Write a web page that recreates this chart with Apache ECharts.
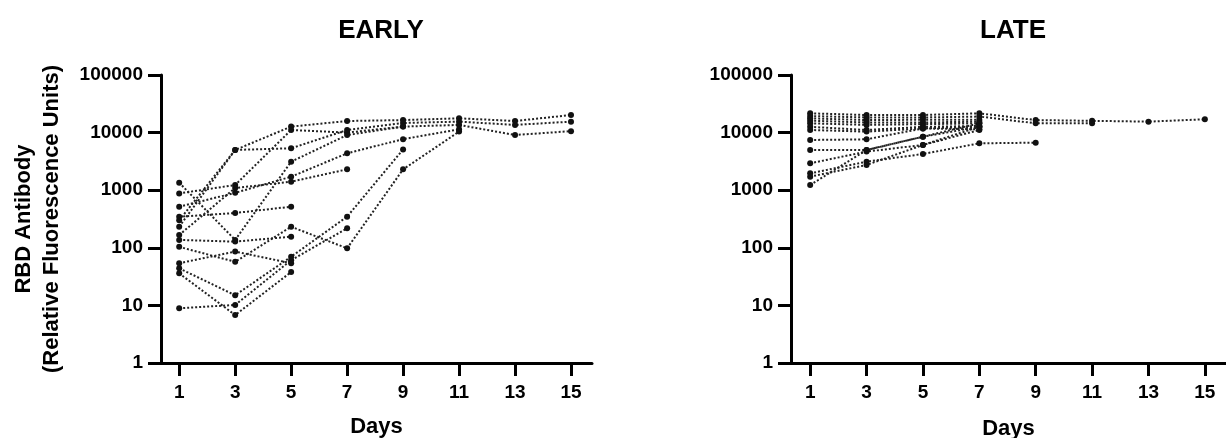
<!DOCTYPE html>
<html>
<head>
<meta charset="utf-8">
<script src="https://cdn.jsdelivr.net/npm/echarts@6/dist/echarts.min.js"></script>
<style>
  html, body { margin: 0; padding: 0; background: #fff; }
  #chart { width: 1226px; height: 438px; }
</style>
</head>
<body>
<div id="chart"></div>
<script>
// ---- data ----
const days = [1, 3, 5, 7, 9, 11, 13, 15];
const yTicks = [1, 10, 100, 1000, 10000, 100000];

// EARLY panel: one array per subject (values at days 1,3,5,...)
const early01 = [300, 5000, 12700, 15900, 16500, 17700, 15900, 20200];
const early02 = [232, 5000, 5340, 11100, 14700, 15500, 13600, 15500];
const early03 = [880, 1230, 11100, 10000, 12700, 13600, 9080, 10600];
const early04 = [1350, 137, 3125, 9080, 12700];
const early05 = [517, 900, 1715, 4370, 7700, 11400];
const early06 = [167, 1090, 1405, 2300];
const early07 = [104, 57, 232, 98, 2300, 10400];
const early08 = [347, 402, 517];
const early09 = [44, 15, 70, 347, 5100];
const early10 = [8.9, 10.2, 61, 218];
const early11 = [36, 6.8, 38];
const early12 = [137, 128, 156];
const early13 = [54, 86, 54];

// LATE panel
const late01 = [21600, 20200, 20200, 21600, 16500, 16000, 15500, 17000];
const late02 = [19400, 18300, 18300, 19000, 14500, 14500];
const late03 = [17700, 16500, 16700, 16700];
const late04 = [16100, 15000, 15000, 15500];
const late05 = [14500, 13600, 14000, 14500];
const late06 = [12600, 11100, 12600, 13000];
const late07 = [11100, 10400, 11800, 12600];
const late08 = [7440, 7650, 11800, 11400];
const late09 = [4990, 4990, 8490, 14500];
const late10 = [2930, 4680, 6100, 12600];
const late11 = [1960, 3125, 4250, 6520, 6680];
const late12 = [1720, 2740, 6100, 11100];
const late13 = [1230, 4990, 8490, 12600];

const earlySubjects = [early01, early02, early03, early04, early05, early06, early07,
  early08, early09, early10, early11, early12, early13];
const lateSubjects = [late01, late02, late03, late04, late05, late06, late07,
  late08, late09, late10, late11, late12, late13];

// ---- chart ----
const FONT = "'Liberation Sans', Arial, sans-serif";
const chart = echarts.init(document.getElementById('chart'), null, { renderer: 'canvas' });

function toPairs(vals) { return vals.map((v, i) => [days[i], v]); }

function makeSeries(subjects, axisIndex) {
  return subjects.map(vals => ({
    type: 'line',
    xAxisIndex: axisIndex,
    yAxisIndex: axisIndex,
    data: toPairs(vals),
    symbol: 'circle',
    symbolSize: 6,
    itemStyle: { color: '#111' },
    lineStyle: { color: '#222', width: 2, type: [2, 2] },
    emphasis: { disabled: true },
    silent: true,
    animation: false
  }));
}

function xAxisCfg(gridIndex, min, gap) {
  return {
    type: 'value', gridIndex, min, max: 15.75,
    name: 'Days', nameLocation: 'middle', nameGap: gap,
    nameTextStyle: { fontFamily: FONT, fontSize: 22, fontWeight: 'bold', color: '#000' },
    axisLine: { show: true, lineStyle: { color: '#000', width: 3 } },
    axisTick: { show: true, length: 13, lineStyle: { color: '#000', width: 3 }, customValues: days },
    axisLabel: { fontFamily: FONT, fontSize: 19, fontWeight: 'bold', color: '#000', margin: 20, customValues: days },
    splitLine: { show: false }
  };
}

function yAxisCfg(gridIndex, withName) {
  const cfg = {
    type: 'log', logBase: 10, gridIndex, min: 1, max: 100000,
    axisLine: { show: true, lineStyle: { color: '#000', width: 3 } },
    axisTick: { show: true, length: 13, lineStyle: { color: '#000', width: 3 } },
    axisLabel: { fontFamily: FONT, fontSize: 19, fontWeight: 'bold', color: '#000', margin: 18,
      formatter: v => String(Math.round(v)) },
    minorTick: { show: false },
    splitLine: { show: false }
  };
  if (withName) {
    cfg.name = 'RBD Antibody\n(Relative Fluorescence Units)';
    cfg.nameLocation = 'middle';
    cfg.nameRotate = 90;
    cfg.nameGap = 95;
    cfg.nameTextStyle = { fontFamily: FONT, fontSize: 22, fontWeight: 'bold', color: '#000', lineHeight: 28 };
  }
  return cfg;
}

chart.setOption({
  backgroundColor: '#fff',
  animation: false,
  title: [
    { text: 'EARLY', left: 376, top: 13, textAlign: 'center',
      textStyle: { fontFamily: FONT, fontSize: 26, fontWeight: 'bold', color: '#000' } },
    { text: 'LATE', left: 1008, top: 13, textAlign: 'center',
      textStyle: { fontFamily: FONT, fontSize: 26, fontWeight: 'bold', color: '#000' } }
  ],
  grid: [
    { left: 161, top: 75, width: 431, height: 288, containLabel: false, outerBoundsMode: 'none' },
    { left: 791, top: 75, width: 435, height: 288, containLabel: false, outerBoundsMode: 'none' }
  ],
  xAxis: [xAxisCfg(0, 0.35, 53), xAxisCfg(1, 0.32, 55)],
  yAxis: [yAxisCfg(0, true), yAxisCfg(1, false)],
  series: makeSeries(earlySubjects, 0).concat(makeSeries(lateSubjects, 1))
});
</script>
</body>
</html>
